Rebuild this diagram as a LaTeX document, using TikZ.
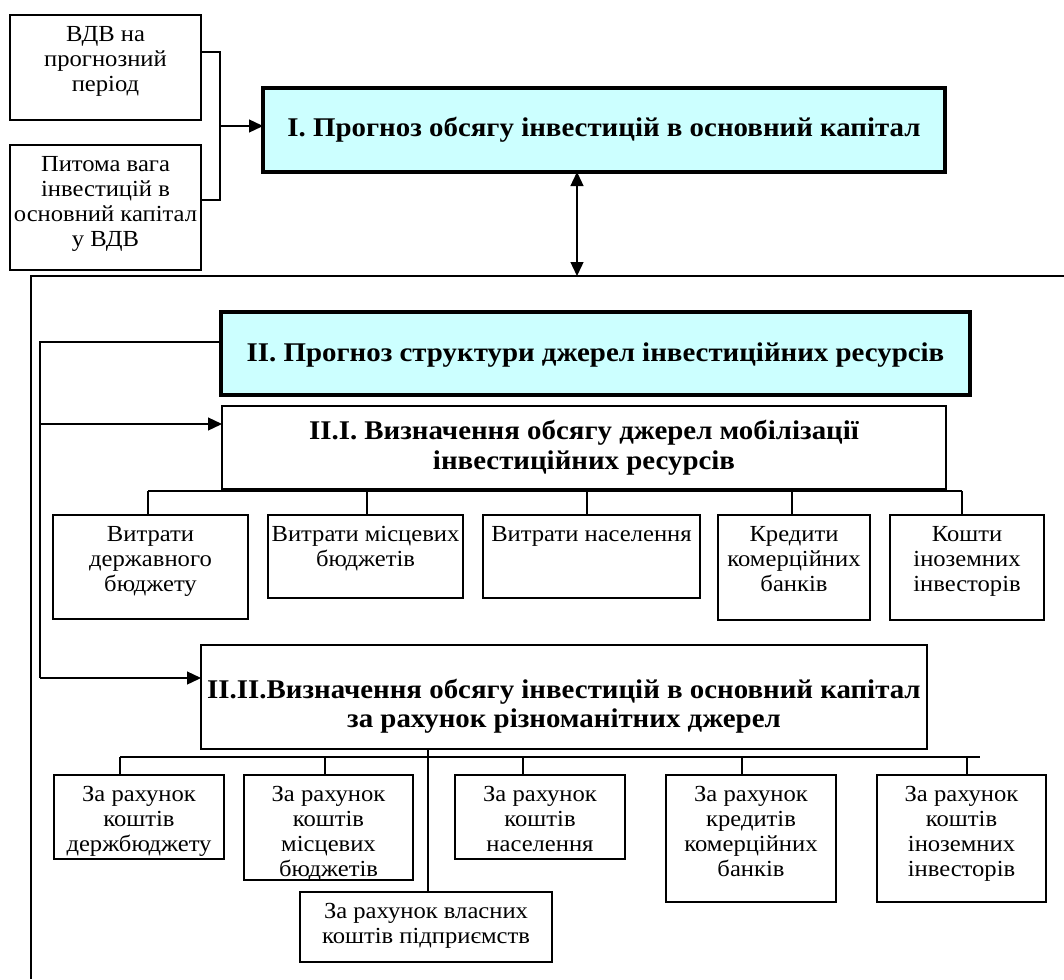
\documentclass[tikz,border=0pt]{standalone}
\usepackage{fontspec}
\setmainfont[FakeStretch=1.07]{Liberation Serif}
\usetikzlibrary{arrows.meta}
\definecolor{cyanfill}{HTML}{CCFFFF}
\newcommand\rbox[6]{\node[#1, anchor=north west, outer sep=0pt, inner sep=0pt, minimum width={#5pt-#3pt}, minimum height={#6pt-#4pt}] (#2) at (#3,#4) {};}
\newcommand\btxt[2]{\node[txt, anchor=north] (#1t) at ([yshift=-8.5pt]#1.north) {\strut #2};}
\begin{document}
\begin{tikzpicture}[x=1pt,y=-1pt,
  box/.style={draw, line width=1.3pt, fill=white},
  thickbox/.style={draw, line width=3.6pt, fill=cyanfill},
  txt/.style={align=center, inner sep=0pt, font=\fontsize{23}{25}\selectfont},
  ttl/.style={align=center, inner sep=0pt, font=\bfseries\fontsize{27}{29.5}\selectfont},
  conn/.style={line width=1.3pt},
  framel/.style={line width=1.8pt},
  tip/.tip={Triangle[length=14pt,width=13pt]},
  arr/.style={conn, -tip}]
\useasboundingbox (0,0) rectangle (1064,979);

% boxes
\rbox{box}{A}{10}{15}{201}{120}
\rbox{box}{B}{10}{145}{201}{270}
\rbox{thickbox}{I}{263}{88}{945}{172}
\rbox{thickbox}{II}{221}{312}{970}{395}
\rbox{box}{IIa}{222}{406}{946}{489}
\rbox{box}{L1}{53}{515}{248}{619}
\rbox{box}{L2}{268}{515}{463}{598}
\rbox{box}{L3}{483}{515}{700}{598}
\rbox{box}{L4}{718}{515}{870}{620}
\rbox{box}{L5}{890}{515}{1044}{620}
\rbox{box}{IIb}{201}{645}{927}{749}
\rbox{box}{M1}{54}{775}{224}{859}
\rbox{box}{M2}{244}{775}{413}{880}
\rbox{box}{M3}{455}{775}{625}{859}
\rbox{box}{M4}{666}{775}{836}{902}
\rbox{box}{M5}{877}{775}{1046}{902}
\rbox{box}{M6}{300}{892}{552}{962}

% texts
\btxt{A}{ВДВ на\\прогнозний\\період}
\btxt{B}{Питома вага\\інвестицій в\\основний капітал\\у ВДВ}
\node[ttl] (It) at (I) {І. Прогноз обсягу інвестицій в основний капітал};
\node[ttl] (IIt) at ([yshift=-2pt]II.center) {ІІ. Прогноз структури джерел інвестиційних ресурсів};
\node[ttl] (IIat) at (IIa) {ІІ.І. Визначення обсягу джерел мобілізації\\інвестиційних ресурсів};
\node[ttl] (IIbt) at ([yshift=-9pt]IIb.center) {ІІ.ІІ.Визначення обсягу інвестицій в основний капітал\\за рахунок різноманітних джерел};
\btxt{L1}{Витрати\\державного\\бюджету}
\btxt{L2}{Витрати місцевих\\бюджетів}
\btxt{L3}{Витрати населення}
\btxt{L4}{Кредити\\комерційних\\банків}
\btxt{L5}{Кошти\\іноземних\\інвесторів}
\btxt{M1}{За рахунок\\коштів\\держбюджету}
\btxt{M2}{За рахунок\\коштів\\місцевих\\бюджетів}
\btxt{M3}{За рахунок\\коштів\\населення}
\btxt{M4}{За рахунок\\кредитів\\комерційних\\банків}
\btxt{M5}{За рахунок\\коштів\\іноземних\\інвесторів}
\btxt{M6}{За рахунок власних\\коштів підприємств}

% top connectors
\coordinate (j) at (220,126);
\draw[conn] ([yshift=15.5pt]A.east) -| (j) |- ([yshift=7.5pt]B.east);
\draw[arr] (j) -- (j -| I.west);

% frame
\coordinate (ft) at (577,276);
\coordinate (fr) at (1064,276);
\coordinate (fl) at (31,276);
\coordinate (fb) at (31,979);
\draw[framel] (fr) -- (fl) -- (fb);
\draw[conn, tip-tip] (ft |- I.south) -- (ft);

% inner feedback line
\coordinate (k1) at (40,342);
\coordinate (k2) at (40,424);
\coordinate (k3) at (40,678);
\draw[conn] (k1 -| II.west) -- (k1) -- (k3);
\draw[arr] (k2) -- (k2 -| IIa.west);
\draw[arr] (k3) -- (k3 -| IIb.west);

% bus 1
\coordinate (b1) at (148,491);
\coordinate (b2) at (367,491);
\coordinate (b3) at (587,491);
\coordinate (b4) at (792,491);
\coordinate (b5) at (962,491);
\draw[conn] (b1) -- (b5);
\draw[conn] (b1) -- (b1 |- L1.north);
\draw[conn] (b2) -- (b2 |- L2.north);
\draw[conn] (b3) -- (b3 |- L3.north);
\draw[conn] (b4) -- (b4 |- L4.north);
\draw[conn] (b5) -- (b5 |- L5.north);

% bus 2
\coordinate (d1) at (120,757);
\coordinate (d2) at (325,757);
\coordinate (d3) at (523,757);
\coordinate (d4) at (742,757);
\coordinate (d5) at (967,757);
\coordinate (d6) at (980,757);
\coordinate (c) at (428,757);
\draw[conn] (d1) -- (d6);
\draw[conn] (d1) -- (d1 |- M1.north);
\draw[conn] (d2) -- (d2 |- M2.north);
\draw[conn] (d3) -- (d3 |- M3.north);
\draw[conn] (d4) -- (d4 |- M4.north);
\draw[conn] (d5) -- (d5 |- M5.north);
\draw[conn] (c |- IIb.south) -- (c |- M6.north);
\end{tikzpicture}
\end{document}
